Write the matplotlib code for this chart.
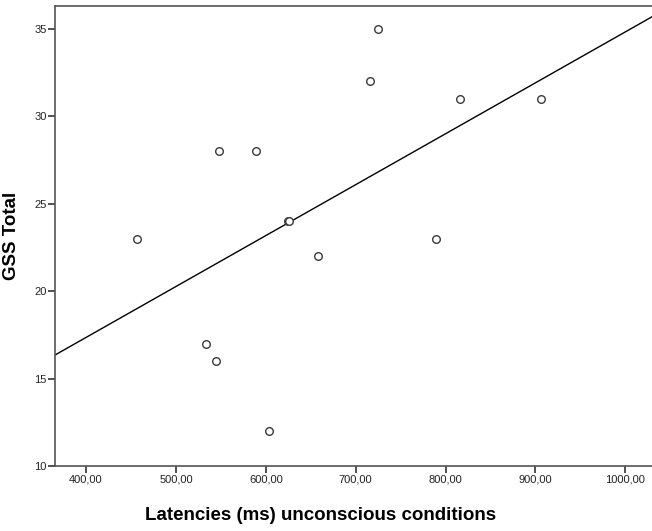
import numpy as np
import matplotlib.pyplot as plt
from matplotlib.ticker import FuncFormatter

# latencies (ms) in unconscious conditions vs GSS total
latency = [457, 534, 545, 548, 589, 604, 625, 626, 658, 716, 725, 789, 816, 906]
gss_total = [23, 17, 16, 28, 28, 12, 24, 24, 22, 32, 35, 23, 31, 31]

x_ticks = [400, 500, 600, 700, 800, 900, 1000]
y_ticks = [10, 15, 20, 25, 30, 35]

plt.rcParams['font.family'] = ['Liberation Sans', 'DejaVu Sans']

fig = plt.figure(figsize=(6.52, 5.31), dpi=100)
ax = fig.add_axes([0.0848, 0.1224, 0.9152, 0.8669])

x = np.array(latency, dtype=float)
y = np.array(gss_total, dtype=float)

ax.scatter(x, y, s=30, facecolors='white', edgecolors='#3a3a3a', linewidths=1.0, zorder=3)

# linear fit line
slope, intercept = np.polyfit(x, y, 1)
xl = np.array([300, 1100])
ax.plot(xl, slope * xl + intercept, color='black', linewidth=1.0, zorder=2)

ax.set_xlim(365.8, 1029.7)
ax.set_ylim(10, 36.33)
ax.set_xticks(x_ticks)
ax.set_yticks(y_ticks)
ax.xaxis.set_major_formatter(FuncFormatter(lambda v, p: f'{v:.2f}'.replace('.', ',')))

for side in ['left', 'bottom', 'top']:
    ax.spines[side].set_color('#555555')
    ax.spines[side].set_linewidth(1.2)
ax.spines['right'].set_visible(False)

ax.tick_params(axis='both', direction='out', length=5, width=1.2, color='#333333',
               labelsize=8, labelcolor='#222222', pad=1)

ax.set_xlabel('Latencies (ms) unconscious conditions', fontsize=13.5, fontweight='bold')
ax.set_ylabel('GSS Total', fontsize=13.5, fontweight='bold')
ax.xaxis.set_label_coords(0.445, -0.09)
ax.yaxis.set_label_coords(-0.059, 0.5)

fig.savefig('out.png', dpi=100)
